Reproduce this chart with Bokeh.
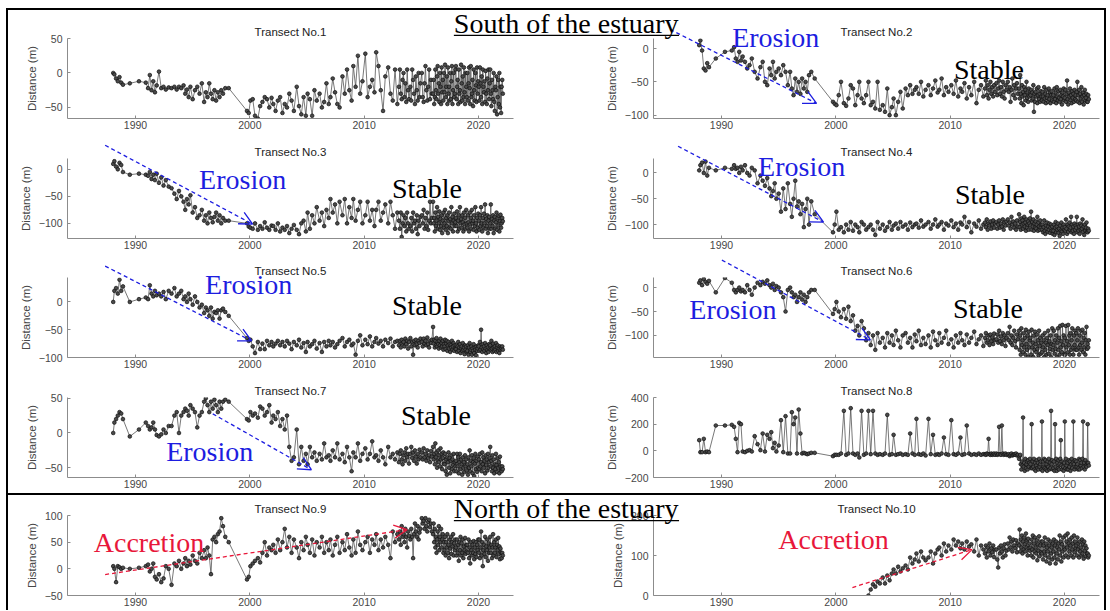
from bokeh.plotting import figure
from bokeh.models import Range1d, FixedTicker, Label, Arrow, OpenHead, Spacer
from bokeh.layouts import row, column
from bokeh.embed import file_html
from bokeh.resources import INLINE

# ---------------- data ----------------
dates = [
    1988.05, 1988.15, 1988.3, 1988.45, 1988.6, 1988.75, 1988.9,
    1989.5, 1990.3, 1990.9,
    1991.1, 1991.25, 1991.4, 1991.55, 1991.7, 1991.85,
    1992.05, 1992.25, 1992.45, 1992.65, 1992.9,
    1993.15, 1993.4, 1993.6, 1993.8,
    1994.0, 1994.2, 1994.35, 1994.5, 1994.65, 1994.8,
    1995.0, 1995.2, 1995.4, 1995.6, 1995.8,
    1996.0, 1996.15, 1996.3, 1996.45, 1996.6, 1996.75, 1996.9,
    1997.05, 1997.2, 1997.35, 1997.5, 1997.65, 1997.85,
    1998.15, 1999.75, 1999.9,
    2000.05, 2000.25, 2000.45, 2000.7, 2000.9,
    2001.1, 2001.3, 2001.5, 2001.7, 2001.9,
    2002.05, 2002.25, 2002.45, 2002.65, 2002.85,
    2003.05, 2003.25, 2003.45, 2003.65, 2003.85,
    2004.1, 2004.3, 2004.5, 2004.7, 2004.9,
    2005.05, 2005.25, 2005.45, 2005.65, 2005.85,
    2006.1, 2006.3, 2006.5, 2006.7, 2006.9,
    2007.05, 2007.25, 2007.45, 2007.65, 2007.85,
    2008.1, 2008.3, 2008.5, 2008.7, 2008.9,
    2009.05, 2009.25, 2009.45, 2009.65, 2009.85,
    2010.1, 2010.3, 2010.5, 2010.7, 2010.9,
    2011.05, 2011.25, 2011.45, 2011.65, 2011.85,
    2012.1, 2012.3, 2012.5, 2012.7, 2012.9,
    2013.04, 2013.12, 2013.2, 2013.28, 2013.36, 2013.44, 2013.52, 2013.6, 2013.68, 2013.76, 2013.84, 2013.92,
    2014.04, 2014.12, 2014.2, 2014.28, 2014.36, 2014.44, 2014.52, 2014.6, 2014.68, 2014.76, 2014.84, 2014.92,
    2015.04, 2015.12, 2015.2, 2015.28, 2015.36, 2015.44, 2015.52, 2015.6, 2015.68, 2015.76, 2015.84, 2015.92,
    2016.025, 2016.075, 2016.125, 2016.175, 2016.225, 2016.275, 2016.325, 2016.375, 2016.425, 2016.475,
    2016.525, 2016.575, 2016.625, 2016.675, 2016.725, 2016.775, 2016.825, 2016.875, 2016.925, 2016.975,
    2017.025, 2017.075, 2017.125, 2017.175, 2017.225, 2017.275, 2017.325, 2017.375, 2017.425, 2017.475,
    2017.525, 2017.575, 2017.625, 2017.675, 2017.725, 2017.775, 2017.825, 2017.875, 2017.925, 2017.975,
    2018.025, 2018.075, 2018.125, 2018.175, 2018.225, 2018.275, 2018.325, 2018.375, 2018.425, 2018.475,
    2018.525, 2018.575, 2018.625, 2018.675, 2018.725, 2018.775, 2018.825, 2018.875, 2018.925, 2018.975,
    2019.025, 2019.075, 2019.125, 2019.175, 2019.225, 2019.275, 2019.325, 2019.375, 2019.425, 2019.475,
    2019.525, 2019.575, 2019.625, 2019.675, 2019.725, 2019.775, 2019.825, 2019.875, 2019.925, 2019.975,
    2020.025, 2020.075, 2020.125, 2020.175, 2020.225, 2020.275, 2020.325, 2020.375, 2020.425, 2020.475,
    2020.525, 2020.575, 2020.625, 2020.675, 2020.725, 2020.775, 2020.825, 2020.875, 2020.925, 2020.975,
    2021.025, 2021.075, 2021.125, 2021.175, 2021.225, 2021.275, 2021.325, 2021.375, 2021.425, 2021.475,
    2021.525, 2021.575, 2021.625, 2021.675, 2021.725, 2021.775, 2021.825, 2021.875, 2021.925, 2021.975,
    2022.025, 2022.075, 2022.125,
]

t1 = [
    0, -2, -8, -12, -6, -14, -17,
    -15, -12, -14,
    -22, -3, -25, -12, -28, -18,
    2, -22, -20, -24, -21,
    -22, -20, -24, -20,
    -22, -18, -30, -24, -35, -20,
    -38, -25, -20, -30, -15,
    -42, -28, -35, -15, -30, -38, -25,
    -40, -28, -35, -25, -30, -22,
    -22, -55, -58,
    -40, -38, -62, -66, -48,
    -42, -35, -38, -50, -36,
    -45, -55, -40, -35, -58,
    -45, -50, -30, -40, -55,
    -20, -48, -60, -35, -62,
    -30, -38, -62, -25, -40,
    -30, -50, -42, -15, -45,
    -35, -8, -28, -45, -50,
    -5, -30, 5, -25, -40,
    10, -20, 25, -30, -12,
    28, -35, -20, -10, -28,
    30, 10, -25, -55, -5,
    8, -30, -40, 5, -45,
    -20, 5, -30, -38, -10, 0, -35, -15, -42, 5, -25, -38,
    -20, -40, 5, -10, -30, -45, -5, -25, -40, 0, -35, -15,
    0, -35, -42, -15, 10, -25, -40, -20, 5, -38, -10, -30,
    -30, -10, -45, -35, 5, -25, -38, -5, 10, -30, -15, -42, 0, -20, -45, 8, -28, -10, -40, 0,
    -28, 12, -35, -20, -5, -45, 8, -30, -20, -40, 0, -38, -12, 10, -45, -25, 0, -35, -30, 5,
    10, -38, -20, -10, -45, 5, -30, -25, -42, 12, -15, -40, -5, -35, 8, -28, -45, 0, -20, -35,
    0, -40, -15, 8, -22, -45, 10, -35, -30, -10, -48, 5, -25, -40, 0, -18, -42, 8, -30, -12,
    -20, -40, 8, -15, -35, -5, -45, 5, -20, -28, -12, -42, 3, -30, -45, -8, -25, 5, -38, -15,
    5, -30, -48, -10, -25, -38, 0, -42, -55, -20, -25, -5, -60, -35, -10, -45, 0, -50, -20, -58,
    -20, -10, -30,
]

t2 = [
    5, 12, -3, -30, -33, -22, -28,
    -15, -5, -3,
    2, -15, -20, -5, -18, -12,
    -20, -30, -25, -15, -35,
    -45, -28, -20, -50,
    -55, -30, -40, -20, -45, -35,
    -30, -40, -25, -35, -55,
    -35, -60, -70, -45, -65, -50, -68,
    -45, -60, -50, -65, -40, -35,
    -45, -80, -83,
    -85, -70, -50, -82, -86,
    -75, -55, -60, -85, -70,
    -50, -75, -82, -70, -50,
    -85, -80, -90, -50, -92,
    -85, -95, -60, -100, -88,
    -75, -100, -80, -65, -90,
    -60, -70, -55, -68, -62,
    -58, -68, -50, -72, -62,
    -55, -70, -60, -48, -66,
    -62, -45, -70, -58, -65,
    -55, -68, -48, -72, -60,
    -65, -52, -75, -58, -70,
    -50, -82, -62, -55, -72,
    -60, -48, -70, -55, -75, -62, -50, -68, -58, -72, -55, -65,
    -52, -70, -60, -48, -68, -58, -72, -50, -65, -75, -55, -62,
    -50, -65, -58, -80, -62, -45, -70, -55, -75, -60, -52, -68,
    -60, -75, -40, -68, -82, -55, -72, -65, -85, -58, -70, -62, -78, -50, -74, -66, -80, -60, -72, -68,
    -70, -62, -78, -66, -75, -55, -95, -68, -80, -65, -72, -60, -82, -70, -58, -76, -68, -80, -64, -72,
    -78, -65, -72, -80, -58, -75, -68, -82, -62, -74, -70, -80, -60, -76, -66, -82, -70, -64, -78, -72,
    -70, -80, -60, -76, -66, -82, -58, -72, -78, -64, -74, -80, -62, -76, -70, -84, -66, -72, -60, -78,
    -74, -62, -80, -68, -48, -76, -84, -66, -72, -60, -78, -70, -82, -64, -74, -68, -80, -62, -76, -70,
    -78, -65, -50, -80, -70, -62, -82, -68, -75, -58, -80, -72, -66, -84, -70, -62, -78, -74, -68, -80,
    -80, -70, -76,
]

t3 = [
    10, 15, 5, 0, 12, 8, -5,
    -10, -8, -10,
    -12, -5, -18, -10, -20, -8,
    -25, -15, -30, -20, -32,
    -35, -45, -55, -40,
    -50, -60, -75, -55, -65, -48,
    -80, -70, -90, -85, -75,
    -95, -85, -100, -80, -90, -98, -88,
    -80, -95, -85, -100, -90, -95,
    -95, -100, -106,
    -108, -110, -100, -112, -105,
    -110, -98, -108, -112, -104,
    -105, -112, -100, -115, -108,
    -112, -105, -118, -110, -103,
    -112, -120, -100, -95, -115,
    -80, -110, -85, -100, -70,
    -95, -80, -105, -75, -90,
    -55, -80, -65, -100, -60,
    -85, -55, -100, -70, -90,
    -55, -95, -75, -60, -100,
    -85, -60, -95, -75, -105,
    -75, -60, -95, -80, -65,
    -100, -60, -85, -110, -80,
    -95, -110, -80, -125, -100, -85, -105, -90, -115, -80, -100, -110,
    -105, -90, -115, -80, -100, -95, -110, -85, -120, -95, -105, -88,
    -85, -100, -75, -110, -90, -105, -80, -112, -95, -60, -100, -90,
    -60, -100, -90, -115, -80, -105, -95, -70, -110, -88, -100, -78, -112, -92, -105, -85, -118, -95, -80, -108,
    -100, -75, -112, -90, -105, -85, -118, -95, -80, -108, -92, -110, -70, -100, -88, -115, -95, -82, -105, -98,
    -90, -105, -78, -115, -95, -85, -110, -70, -100, -92, -108, -85, -98, -115, -80, -102, -90, -110, -75, -100,
    -108, -85, -98, -115, -80, -102, -90, -110, -75, -100, -95, -112, -85, -105, -70, -100, -115, -90, -108, -82,
    -95, -112, -85, -105, -70, -100, -115, -90, -108, -82, -100, -65, -110, -92, -105, -85, -118, -95, -88, -110,
    -100, -65, -110, -92, -105, -85, -118, -95, -88, -110, -98, -80, -112, -90, -104, -86, -115, -96, -84, -108,
    -100, -90, -96,
]

t4 = [
    5, 15, 20, 0, 22, -5, 10,
    5, 10, 8,
    15, 8, 10, 0, 12, 5,
    15, 0, -5, 10, 5,
    -20, -5, -15, -25,
    -10, -30, -45, -35, -20, -50,
    -40, -75, -30, -70, -20,
    -60, -85, -50, -15, -65, -55, -80,
    -60, -105, -70, -50, -100, -55,
    -80, -115, -100,
    -75, -110, -105, -115, -100,
    -110, -95, -112, -100, -105,
    -115, -95, -100, -110, -105,
    -100, -110, -120, -95, -108,
    -100, -112, -105, -95, -110,
    -102, -98, -108, -95, -104,
    -100, -110, -96, -105, -100,
    -98, -106, -92, -104, -100,
    -95, -108, -100, -90, -104,
    -100, -95, -110, -98, -102,
    -92, -105, -98, -110, -96,
    -100, -85, -105, -95, -115,
    -98, -104, -92, -108, -100,
    -96, -105, -90, -110, -98, -102, -94, -108, -100, -92, -106, -98,
    -95, -108, -100, -92, -106, -98, -104, -90, -110, -96, -102, -94,
    -90, -102, -96, -108, -85, -100, -94, -106, -98, -110, -92, -104,
    -80, -105, -95, -110, -88, -100, -92, -108, -98, -85, -104, -96, -112, -90, -106, -100, -94, -110, -98, -88,
    -102, -75, -110, -95, -104, -90, -112, -98, -106, -94, -108, -100, -85, -112, -96, -104, -110, -92, -106, -100,
    -110, -100, -115, -105, -92, -112, -118, -102, -108, -96, -114, -104, -110, -98, -116, -106, -100, -112, -104, -118,
    -112, -100, -120, -106, -95, -115, -104, -110, -98, -116, -108, -122, -102, -112, -96, -114, -106, -118, -100, -110,
    -105, -112, -90, -108, -118, -100, -114, -104, -96, -110, -106, -85, -115, -100, -112, -104, -118, -98, -110, -102,
    -106, -85, -115, -100, -112, -104, -118, -98, -110, -102, -108, -90, -114, -104, -120, -100, -112, -106, -96, -114,
    -115, -108, -112,
]

t5 = [
    0, 20, 25, 15, 40, 20, 28,
    0, 5, 8,
    5, 30, 15, 10, 20, 12,
    15, 10, 18, 5, 20,
    15, 25, 10, 15,
    20, 5, 10, 0, 15, 5,
    -5, 10, 0, -10, -5,
    -20, -10, -15, -25, -10, -30, -18,
    -20, -15, -30, -15, -12, -18,
    -25, -65, -70,
    -68, -80, -92, -72, -85,
    -75, -85, -70, -78, -72,
    -80, -75, -70, -78, -72,
    -80, -70, -75, -85, -72,
    -78, -68, -82, -74, -90,
    -72, -80, -76, -70, -84,
    -74, -90, -72, -80, -70,
    -78, -72, -82, -76, -70,
    -65, -80, -72, -68, -78,
    -75, -95, -70, -60, -78,
    -68, -76, -62, -80, -72,
    -65, -75, -70, -80, -68,
    -74, -66, -80, -72, -70,
    -78, -70, -82, -68, -75, -72, -80, -66, -76, -70, -84, -72,
    -65, -80, -72, -95, -70, -78, -68, -76, -82, -70, -74, -66,
    -72, -80, -66, -75, -70, -78, -64, -76, -82, -70, -74, -68,
    -45, -75, -68, -82, -70, -78, -65, -80, -72, -76, -84, -70, -78, -66, -82, -74, -80, -70, -86, -76,
    -80, -68, -85, -75, -70, -88, -78, -72, -84, -76, -90, -78, -82, -70, -86, -80, -74, -88, -78, -84,
    -85, -78, -90, -80, -72, -88, -82, -76, -92, -84, -80, -88, -74, -86, -82, -94, -78, -86, -80, -90,
    -88, -78, -95, -82, -74, -90, -86, -80, -95, -84, -88, -76, -92, -82, -86, -96, -80, -88, -84, -78,
    -80, -88, -72, -86, -50, -82, -90, -76, -85, -80, -88, -74, -84, -92, -78, -86, -82, -90, -76, -84,
    -78, -86, -70, -84, -90, -75, -82, -88, -80, -86, -74, -90, -82, -78, -88, -84, -92, -80, -86, -82,
    -84, -80, -86,
]

t6 = [
    10, 15, 5, 18, 12, 8, 14,
    -10, 20, 10,
    -5, -10, -5, 0, -8, -5,
    -10, 5, -5, -15, 0,
    10, 5, 12, 8,
    15, 5, 0, 8, -5, 3,
    0, -10, -20, -50, -5,
    0, -10, -20, -15, -30, -20, -10,
    -25, -15, -30, -20, -10, -5,
    -5, -55, -45,
    -30, -50, -62, -45, -65,
    -40, -70, -58, -90, -80,
    -100, -70, -85, -110, -95,
    -120, -100, -130, -95, -115,
    -105, -125, -95, -115, -100,
    -120, -90, -110, -125, -100,
    -95, -115, -105, -125, -98,
    -112, -90, -120, -105, -118,
    -100, -125, -92, -110, -120,
    -95, -115, -105, -90, -118,
    -108, -125, -100, -115, -95,
    -110, -120, -98, -115, -105,
    -92, -118, -108, -100, -122,
    -105, -95, -115, -110, -100, -120, -98, -112, -104, -118, -96, -110,
    -108, -98, -115, -90, -112, -102, -118, -95, -110, -100, -122, -105,
    -95, -110, -82, -115, -100, -120, -105, -90, -112, -125, -98, -108,
    -90, -130, -100, -140, -85, -120, -110, -135, -95, -125, -105, -140, -88, -118, -130, -100, -145, -92, -125, -110,
    -105, -140, -88, -125, -115, -145, -100, -130, -92, -118, -135, -98, -128, -110, -142, -90, -122, -105, -138, -115,
    -135, -100, -125, -110, -145, -95, -130, -115, -140, -105, -120, -90, -138, -112, -128, -100, -145, -118, -85, -130,
    -120, -90, -138, -110, -128, -100, -145, -115, -85, -130, -105, -140, -80, -125, -112, -135, -78, -120, -100, -140,
    -105, -140, -80, -125, -112, -135, -78, -120, -100, -140, -95, -130, -110, -85, -125, -140, -100, -120, -90, -130,
    -95, -130, -110, -85, -125, -140, -100, -120, -90, -130, -115, -88, -135, -105, -125, -95, -140, -110, -82, -128,
    -118, -125, -110,
]

t7 = [
    0, 15, 20, 25, 30, 28, 20,
    -5, 5, 15,
    10, 5, 8, 15, 5, -3,
    -5, -2, 5, 0, 10,
    10, 25, 30, 0,
    25, 30, 35, 32, 25, 40,
    35, 30, 8, 25, 30,
    45, 50, 40, 30, 45, 35, 48,
    40, 30, 45, 35, 45, 48,
    45, 20, 18,
    30, 25, 28, 22, 38,
    35, 25, 30, 40, 15,
    25, 20, 30, 10, 20,
    5, 25, -20, -40, -35,
    5, -45, -20, -40, -30,
    -45, -20, -35, -28, -40,
    -30, -38, -15, -35, -32,
    -40, -25, -35, -15, -38,
    -30, -42, -20, -35, -55,
    -28, -35, -15, -40, -30,
    -22, -38, -30, -12, -35,
    -32, -40, -25, -35, -45,
    -20, -35, -30, -38, -28,
    -42, -30, -25, -38, -45, -32, -28, -40, -22, -35, -30, -44,
    -30, -20, -36, -28, -40, -25, -34, -44, -30, -38, -24, -35,
    -28, -38, -22, -35, -30, -40, -25, -36, -32, -42, -26, -34,
    -20, -38, -30, -45, -15, -35, -28, -50, -40, -25, -42, -32, -48, -22, -38, -30, -52, -36, -28, -44,
    -45, -30, -55, -38, -60, -35, -42, -28, -50, -36, -58, -40, -32, -52, -38, -46, -30, -55, -42, -48,
    -40, -55, -30, -48, -35, -58, -42, -30, -52, -38, -45, -60, -35, -50, -42, -56, -32, -48, -38, -54,
    -45, -60, -35, -50, -25, -55, -40, -48, -32, -58, -42, -36, -62, -44, -30, -52, -40, -56, -34, -50,
    -38, -52, -30, -48, -42, -55, -28, -45, -35, -50, -40, -58, -32, -46, -38, -54, -30, -50, -42, -36,
    -20, -48, -40, -55, -32, -50, -38, -58, -45, -52, -30, -46, -56, -36, -50, -42, -58, -34, -48, -54,
    -55, -48, -52,
]

t8 = [
    80, -10, -10, 90, -10, -5, -10,
    190, 190, 195,
    180, 90, -10, 210, 200, -5,
    -10, 0, 5, -5, 110,
    50, 5, 130, -5,
    120, 90, 140, 20, 60, -5,
    40, 230, -10, 260, -20,
    -20, 290, 200, 250, -20, 310, 130,
    -20, -15, -20, -25, -20, -15,
    -15, -40, -30,
    -30, -30, -20, 300, -30,
    -20, 320, -20, -30, -20,
    -50, 300, -30, -20, 300,
    -25, 300, -20, -30, -25,
    -30, -20, 270, -30, -25,
    120, -30, -25, -20, -30,
    -25, -30, 130, -20, -30,
    240, -25, -30, -20, -35,
    240, -25, 120, -30, -25,
    -30, -20, 100, -25, -30,
    230, -25, -30, -20, 100,
    -30, -25, 190, -20, -30,
    -25, -30, -20, -30, -25,
    -25, -30, -20, -25, 90, -25, -30, -20, -30, -25, -20, -30,
    -20, -30, -25, 180, -25, -30, 190, -20, -30, -25, -20, -30,
    -30, -25, -40, -30, -20, -35, -30, -25, -30, -20, -35, -30,
    -60, -40, -30, -100, -140, -80, -110, 250, -120, -90, -150, -60, -130, -100, -80, -140, -70, -120, -90, -60,
    -100, -130, 200, -130, -80, -120, -60, -140, -90, -150, -110, -70, -130, -90, -140, -60, -120, -100, -80, -140,
    220, -150, -80, -120, -60, -130, -70, -140, -100, -150, -80, -120, -60, -140, -90, -130, 300, -100, -70, -140,
    -130, -80, -150, 200, -120, -60, -150, -90, -130, -70, -140, -100, -60, 80, -110, -140, -80, -120, -150, -90,
    220, -130, -60, -110, -140, -90, -140, -70, -120, -80, -150, -100, -60, -130, -90, 220, -100, -140, -70, -120,
    -80, -120, -100, -140, -130, -60, -140, -70, -110, -90, -130, -60, 220, -120, -90, -140, -70, -110, -120, -90,
    200, -90, -110,
]

t9 = [
    5, 0, -25, 5, 3, 0, 2,
    0, 2, 5,
    8, -5, 0, 10, -15, -20,
    -10, -25, -18, 5, 0,
    -30, 10, 5, 15,
    0, 10, 20, 5, 15, 8,
    25, 15, 10, 30, 20,
    35, 20, 40, 25, -10, 55, 60,
    50, 65, 70, 95, 80, 60,
    50, -20, -15,
    5, 10, 15, 20, 12,
    30, 50, 25, 40, 35,
    45, 30, 55, 35, 50,
    75, 40, 60, 30, 55,
    40, 20, 50, 35, 60,
    45, 30, 55, 25, 50,
    40, 60, 30, 50, 35,
    55, 25, 45, 60, 30,
    50, 35, 65, 40, 25,
    55, 30, 70, 45, 35,
    50, 60, 30, 55, 45,
    65, 35, 55, 40, 60,
    45, 20, 70, 50, 65,
    55, 70, 45, 80, 60, 65, 50, 75, 60, 40, 70, 62,
    55, 75, 60, 20, 65, 85, 70, 60, 80, 55, 68, 75,
    95, 85, 90, 75, 95, 80, 70, 88, 92, 78, 85, 70,
    65, 85, 50, 75, 40, 60, 30, 55, 70, 45, 80, 35, 60, 50, 75, 40, 55, 65, 30, 50,
    35, 60, 25, 50, 40, 65, 30, 45, 20, 55, 38, 60, 28, 50, 42, 65, 25, 48, 35, 55,
    40, 25, 55, 30, 45, 15, 50, 35, 60, 25, 48, 30, 55, 20, 42, 35, 58, 28, 45, 32,
    45, 30, 55, 20, 40, 10, 50, 35, 25, 45, 30, 52, 18, 40, 28, 50, 22, 45, 35, 55,
    30, 55, 20, 40, 70, 25, 50, 5, 35, 45, 28, 60, 22, 42, 35, 55, 15, 48, 30, 40,
    60, 30, 45, 20, 40, 65, 25, 50, 30, 40, 55, 22, 45, 35, 58, 28, 42, 18, 38, 30,
    20, 30, 25,
]

# transect 10 starts in late 2002 (uses the last dates of the list)
t10 = [
    0,
    15, 28, 22, 35, 30,
    45, 30, 50, 38, 55,
    65, 55, 72, 60, 68,
    75, 65, 95, 80, 90,
    105, 85, 110, 95, 88,
    95, 110, 80, 105, 115,
    120, 100, 130, 110, 125,
    115, 140, 125, 135, 118,
    130, 115, 135, 122, 128,
    110, 140, 100, 125, 115,
    105, 125, 95, 120, 110, 130, 100, 118, 108, 125, 96, 115,
    115, 90, 70, 120, 105, 125, 110, 95, 118, 128, 100, 112,
    130, 115, 145, 120, 135, 110, 140, 125, 118, 138, 108, 130,
    125, 165, 110, 140, 120, 150, 105, 135, 115, 145, 128, 110, 155, 120, 138, 100, 142, 118, 130, 112,
    120, 100, 140, 115, 150, 95, 130, 110, 145, 120, 105, 138, 88, 128, 112, 148, 98, 125, 108, 135,
    105, 135, 90, 125, 110, 145, 100, 130, 85, 120, 110, 140, 95, 125, 80, 135, 105, 120, 90, 130,
    110, 140, 95, 125, 80, 135, 105, 120, 90, 130, 115, 150, 100, 135, 85, 128, 110, 145, 95, 120,
    115, 150, 100, 135, 120, 155, 95, 130, 110, 140, 125, 100, 145, 115, 130, 95, 150, 108, 135, 118,
    125, 100, 145, 115, 130, 95, 135, 110, 120, 100, 140, 105, 128, 92, 135, 112, 125, 98, 118, 105,
    105, 95, 100,
]

series = {1: t1, 2: t2, 3: t3, 4: t4, 5: t5, 6: t6, 7: t7, 8: t8, 9: t9, 10: t10}
for k, v in series.items():
    if k != 10:
        assert len(v) == len(dates), (k, len(v), len(dates))

x_range_vals = (1984.05, 2023.06)
x_ticks = [1990, 2000, 2010, 2020]
y_ranges = {
    1: (-66, 50), 2: (-105, 15), 3: (-128, 20), 4: (-127, 28), 5: (-100, 44),
    6: (-146, 21), 7: (-64, 51), 8: (-200, 400), 9: (-50, 100), 10: (0, 200),
}
y_ticks = {
    1: [-50, 0, 50], 2: [-100, -50, 0], 3: [-100, -50, 0], 4: [-100, -50, 0],
    5: [-100, -50, 0], 6: [-100, -50, 0], 7: [-50, 0, 50], 8: [-200, 0, 200, 400],
    9: [-50, 0, 50, 100], 10: [0, 100, 200],
}

BLUE = "#1d1de0"
RED = "#e8173a"
# annotation words, page pixel positions: (text, colour, x, y)
ann_words = [
    ("Erosion", BLUE, 778, 37), ("Stable", "black", 992, 69),
    ("Erosion", BLUE, 243, 179), ("Stable", "black", 428, 188),
    ("Erosion", BLUE, 804, 166), ("Stable", "black", 993, 194),
    ("Erosion", BLUE, 249, 284), ("Stable", "black", 428, 306),
    ("Erosion", BLUE, 735, 310), ("Stable", "black", 991, 309),
    ("Erosion", BLUE, 210, 452), ("Stable", "black", 437, 416),
    ("Accretion", RED, 149, 543),
    ("Accretion", RED, 836, 540),
]
ann_arrows = [
    (672, 29, 819, 103, BLUE),
    (105, 145, 253, 224, BLUE),
    (680, 146, 826, 222, BLUE),
    (105, 266, 252, 341, BLUE),
    (724, 260, 873, 340, BLUE),
    (213, 414, 312, 470, BLUE),
    (105, 575, 408, 530, RED),
    (855, 588, 975, 550, RED),
]
section_titles = [("South of the estuary", 455, 23), ("North of the estuary", 455, 509)]
underlines = [(455, 681, 35), (455, 681, 521)]

# ---------------- layout geometry ----------------
SANS = "Liberation Sans"
SERIF = "Liberation Serif"
fig_w = [549, 547]
col_borders = [(59, 44), (96, 5)]          # (left, right) min borders -> frame width 446
row_geom = [(127, 28, 19), (120, 21, 19), (119, 20, 19), (117, 21, 16), (115, 20, 15)]

figs = {}
for idx in range(1, 11):
    r, c = (idx - 1) // 2, (idx - 1) % 2
    h, bt, bb = row_geom[r]
    bl, br = col_borders[c]
    ys = series[idx]
    xs = dates[len(dates) - len(ys):]
    y0, y1 = y_ranges[idx]
    p = figure(width=fig_w[c], height=h, x_range=Range1d(*x_range_vals), y_range=Range1d(y0, y1),
               output_backend="svg", toolbar_location=None,
               min_border_left=bl, min_border_right=br, min_border_top=bt, min_border_bottom=bb)
    p.outline_line_color = None
    p.grid.visible = False
    p.background_fill_color = "white"
    p.border_fill_color = "white"

    p.title.text = f"Transect No.{idx}"
    p.title.align = "center"
    p.title.text_font = SANS
    p.title.text_font_size = "11.5px"
    p.title.text_font_style = "normal"
    p.title.text_color = "#222222"
    p.title.standoff = 1

    p.line(xs, ys, line_color="#555555", line_width=0.8)
    p.scatter(xs, ys, marker="circle", size=3.7, fill_color="#4a4a4a",
              line_color="#101010", line_width=0.7)

    for ax in (p.xaxis[0], p.yaxis[0]):
        ax.axis_line_color = "#8c8c8c"
        ax.major_tick_line_color = "#8c8c8c"
        ax.major_tick_in = 3
        ax.major_tick_out = 0
        ax.minor_tick_line_color = None
        ax.major_label_text_font = SANS
        ax.major_label_text_font_size = "10.5px"
        ax.major_label_text_color = "#474747"
    p.xaxis.ticker = FixedTicker(ticks=x_ticks)
    p.yaxis.ticker = FixedTicker(ticks=y_ticks[idx])
    p.xaxis.major_label_standoff = 2
    p.yaxis.major_label_standoff = 5
    p.yaxis.axis_label = "Distance (m)"
    p.yaxis.axis_label_text_font = SANS
    p.yaxis.axis_label_text_font_size = "11.5px"
    p.yaxis.axis_label_text_font_style = "normal"
    p.yaxis.axis_label_text_color = "#474747"
    p.yaxis.axis_label_standoff = 4
    figs[idx] = p

# transparent overlay (page pixel coordinates) for the annotations that cross the panels
ov = figure(width=1110, height=611, x_range=Range1d(0, 1110), y_range=Range1d(611, 0),
            output_backend="svg", toolbar_location=None, x_axis_type=None, y_axis_type=None,
            min_border=0, background_fill_color=None, border_fill_color=None,
            styles={"position": "absolute", "top": "0px", "left": "0px", "z-index": "5",
                    "pointer-events": "none"})
ov.outline_line_color = None
ov.grid.visible = False

for txt, colr, px, py in ann_words:
    ov.add_layout(Label(x=px, y=py, text=txt, text_align="center", text_baseline="middle",
                        text_font=SERIF, text_font_size="28px", text_color=colr))
for px0, py0, px1, py1, colr in ann_arrows:
    ov.add_layout(Arrow(x_start=px0, y_start=py0, x_end=px1, y_end=py1,
                        line_color=colr, line_width=1.3, line_dash="4 3",
                        end=OpenHead(size=13, line_color=colr, line_width=1.3)))
for txt, px, py in section_titles:
    ov.add_layout(Label(x=px, y=py, text=txt, text_align="left", text_baseline="middle",
                        text_font=SERIF, text_font_size="28px", text_color="black"))
for px0, px1, py in underlines:
    ov.add_layout(Arrow(x_start=px0, y_start=py, x_end=px1, y_end=py, start=None, end=None,
                        line_color="black", line_width=1.2))

south = column(
    row(figs[1], figs[2]), row(figs[3], figs[4]), row(figs[5], figs[6]), row(figs[7], figs[8]),
    styles={"border-top": "2px solid black", "border-left": "2px solid black",
            "border-right": "2px solid black", "border-bottom": "2px solid black"},
)
north = column(
    row(figs[9], figs[10]),
    styles={"border-left": "2px solid black", "border-right": "2px solid black"},
)
page = column(Spacer(height=8), row(Spacer(width=6), column(south, north)), ov)

open("out.html", "w").write(file_html(page, INLINE))
